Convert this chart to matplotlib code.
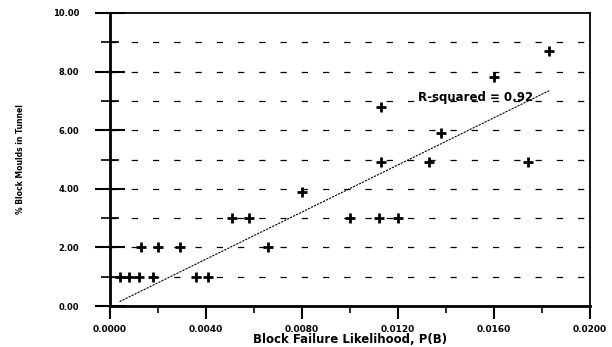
import numpy as np
import matplotlib
matplotlib.use('Agg')
import matplotlib.pyplot as plt
from matplotlib.ticker import MultipleLocator, FormatStrFormatter

# Observed points: block failure likelihood vs % block moulds in tunnel
px = [0.0004, 0.0008, 0.0012, 0.0018, 0.0036, 0.0041,
      0.0013, 0.0020, 0.0029, 0.0066,
      0.0051, 0.0058, 0.0100, 0.0112, 0.0120,
      0.0080,
      0.0113, 0.0133, 0.0174,
      0.0138,
      0.0113,
      0.0160,
      0.0183]
py = [1.0, 1.0, 1.0, 1.0, 1.0, 1.0,
      2.0, 2.0, 2.0, 2.0,
      3.0, 3.0, 3.0, 3.0, 3.0,
      3.9,
      4.9, 4.9, 4.9,
      5.9,
      6.8,
      7.8,
      8.7]

# regression line end points
fit_x = [0.0004, 0.0183]
fit_y = [0.15, 7.35]

grid_levels = [1, 2, 3, 4, 5, 6, 7, 8, 9]

plt.rcParams['font.family'] = 'DejaVu Sans'
plt.rcParams['font.weight'] = 'bold'

fig = plt.figure(figsize=(6.12, 3.47), dpi=100)
ax = fig.add_axes([110/612, 41/347, 480/612, 293/347])

for g in grid_levels:
    ax.axhline(g, color='black', lw=0.9, linestyle=(0, (5, 12)), zorder=1)

ax.plot(fit_x, fit_y, color='black', lw=0.8, linestyle=(0, (2, 1)), zorder=2)
ax.plot(px, py, linestyle='none', marker='+', color='black',
        markersize=7, markeredgewidth=2.0, zorder=3)

ax.text(0.01284, 7.1, 'R-squared = 0.92', fontsize=8.5, fontweight='bold',
        ha='left', va='center')

ax.set_xlim(0, 0.02)
ax.set_ylim(0, 10)
ax.xaxis.set_major_locator(MultipleLocator(0.004))
ax.xaxis.set_minor_locator(MultipleLocator(0.002))
ax.yaxis.set_major_locator(MultipleLocator(2))
ax.yaxis.set_minor_locator(MultipleLocator(1))
ax.xaxis.set_major_formatter(FormatStrFormatter('%.4f'))
ax.yaxis.set_major_formatter(FormatStrFormatter('%.2f'))

ax.tick_params(axis='x', which='major', direction='out', length=9, width=1.5,
               labelsize=6.5, pad=5)
ax.tick_params(axis='x', which='minor', direction='out', length=5, width=1.2)
ax.tick_params(axis='y', which='major', direction='inout', length=22, width=1.5,
               labelsize=6, pad=11)
ax.tick_params(axis='y', which='minor', direction='inout', length=13, width=1.2)

for s in ax.spines.values():
    s.set_linewidth(1.3)
ax.spines['left'].set_linewidth(2)
ax.spines['bottom'].set_linewidth(2)

ax.set_xlabel('Block Failure Likelihood, P(B)', fontsize=8.5, fontweight='bold',
              labelpad=-1)
ax.set_ylabel('% Block Moulds in Tunnel', fontsize=5.5, fontweight='bold',
              labelpad=20)

fig.savefig('out.png', dpi=100)
